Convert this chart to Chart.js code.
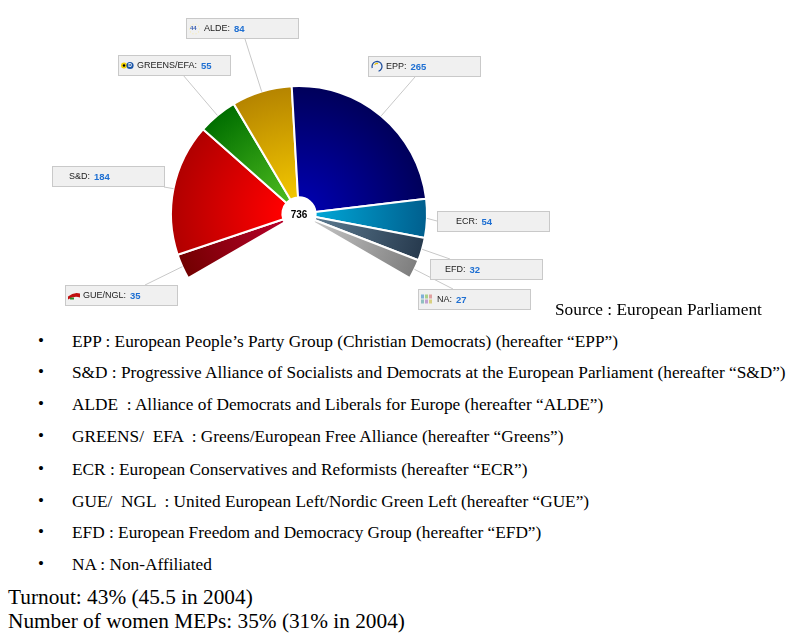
<!DOCTYPE html>
<html><head><meta charset="utf-8">
<script src="https://cdn.jsdelivr.net/npm/chart.js@4.4.1/dist/chart.umd.min.js"></script>
<style>
html,body{margin:0;padding:0;background:#fff;}
body{width:798px;height:638px;overflow:hidden;position:relative;font-family:"Liberation Serif","Times New Roman",serif;color:#000;}
#wrap{position:absolute;left:0;top:0;width:798px;height:320px;}
.t{position:absolute;white-space:pre;line-height:20px;font-size:17.3px;}
.b{position:absolute;line-height:20px;font-size:17px;}
.big{position:absolute;white-space:pre;line-height:24px;font-size:21.3px;}
</style></head><body>
<div id="wrap"><canvas id="c" width="798" height="320"></canvas></div>
<div id="notes"></div>
<script>
// ---- data ----
const groups = ['GUE/NGL', 'S&D', 'GREENS/EFA', 'ALDE', 'EPP', 'ECR', 'EFD', 'NA'];
const seats = [35, 184, 55, 84, 265, 54, 32, 27];
const innerColors = ['#b8002a', '#ff0000', '#4cba1e', '#f2c600', '#0000aa', '#00a6d6', '#5c7a90', '#c4c4c4'];
const outerColors = ['#720000', '#b00000', '#006e00', '#b58400', '#00005a', '#005f8e', '#273a4e', '#7e7e7e'];
const legendLines = [
  'EPP : European People\u2019s Party Group (Christian Democrats) (hereafter \u201cEPP\u201d)',
  'S&D : Progressive Alliance of Socialists and Democrats at the European Parliament (hereafter \u201cS&D\u201d)',
  'ALDE  : Alliance of Democrats and Liberals for Europe (hereafter \u201cALDE\u201d)',
  'GREENS/  EFA  : Greens/European Free Alliance (hereafter \u201cGreens\u201d)',
  'ECR : European Conservatives and Reformists (hereafter \u201cECR\u201d)',
  'GUE/  NGL  : United European Left/Nordic Green Left (hereafter \u201cGUE\u201d)',
  'EFD : European Freedom and Democracy Group (hereafter \u201cEFD\u201d)',
  'NA : Non-Affiliated'
];
const sourceText = 'Source : European Parliament';
const footLines = ['Turnout: 43% (45.5 in 2004)', 'Number of women MEPs: 35% (31% in 2004)'];

// ---- label box layout (annotation positions) ----
const boxLayout = [
  {x: 65, y: 285, tx: 18, ax: 145, ay: 285, icon: 'gue'},
  {x: 52, y: 166, tx: 17, ax: 164, ay: 187, icon: null},
  {x: 118, y: 55, tx: 19, ax: 183, ay: 75, icon: 'greens'},
  {x: 186, y: 18, tx: 18, ax: 245, ay: 39, icon: 'alde'},
  {x: 368, y: 56, tx: 18, ax: 415, ay: 77, icon: 'epp'},
  {x: 437, y: 211, tx: 19, ax: 437, ay: 221, icon: null},
  {x: 430, y: 259, tx: 15, ax: 450, ay: 259, icon: null},
  {x: 418, y: 289, tx: 19, ax: 453, ay: 289, icon: 'na'}
];
const BOX_W = 113, BOX_H = 21;

const total = seats.reduce((a, b) => a + b, 0);

// ---- HTML notes ----
const notes = document.getElementById('notes');
function addDiv(cls, text, left, top) {
  const d = document.createElement('div');
  d.className = cls; d.textContent = text;
  d.style.left = left + 'px'; d.style.top = top + 'px';
  notes.appendChild(d);
}
addDiv('t', sourceText, 555, 300);
const centers = [342, 373, 405, 437, 470, 502, 533, 565];
legendLines.forEach((s, i) => {
  addDiv('b', '\u2022', 38, centers[i] - 11);
  addDiv('t', s, 72, centers[i] - 10);
});
addDiv('big', footLines[0], 8, 585);
addDiv('big', footLines[1], 8, 609);

// ---- icons ----
function drawIcon(ctx, kind, x, y) {
  ctx.save();
  if (kind === 'alde') {
    ctx.fillStyle = '#f5e9a8';
    for (let k = 0; k < 10; k++) { const a = k / 10 * Math.PI * 2; ctx.fillRect(x + 5 + Math.cos(a) * 5, y + Math.sin(a) * 5, 1, 1); }
    ctx.fillStyle = '#3a5fb0'; ctx.font = 'bold 6px "Liberation Sans"'; ctx.textBaseline = 'middle'; ctx.fillText('44', x + 1, y);
  } else if (kind === 'greens') {
    ctx.fillStyle = '#f2d100'; ctx.beginPath(); ctx.arc(x + 3, y, 3, 0, Math.PI * 2); ctx.fill();
    ctx.fillStyle = '#000'; ctx.beginPath(); ctx.arc(x + 3, y, 1.2, 0, Math.PI * 2); ctx.fill();
    ctx.fillStyle = '#1b56a8'; ctx.beginPath(); ctx.arc(x + 9, y, 3.6, 0, Math.PI * 2); ctx.fill();
    ctx.fillStyle = '#fff'; ctx.font = 'bold 5px "Liberation Sans"'; ctx.textBaseline = 'middle'; ctx.fillText('D', x + 7.3, y + 0.3);
  } else if (kind === 'epp') {
    ctx.strokeStyle = '#1f4f9e'; ctx.lineWidth = 1.3; ctx.beginPath(); ctx.arc(x + 6, y, 5, Math.PI * 0.9, Math.PI * 2.4); ctx.stroke();
    ctx.strokeStyle = '#e8c000'; ctx.beginPath(); ctx.arc(x + 6, y, 3, Math.PI * 1.2, Math.PI * 1.6); ctx.stroke();
  } else if (kind === 'gue') {
    ctx.fillStyle = '#c01010'; ctx.beginPath(); ctx.moveTo(x, y + 1); ctx.quadraticCurveTo(x + 6, y - 4, x + 12, y - 2); ctx.lineTo(x + 12, y + 2); ctx.quadraticCurveTo(x + 6, y, x, y + 4); ctx.fill();
    ctx.fillStyle = '#2a8a2a'; ctx.fillRect(x + 2, y + 2, 4, 2);
  } else if (kind === 'na') {
    const cs = ['#7fb0d8', '#a8d08c', '#e0a0a0', '#90c0c0', '#c0a0d0', '#d8d080'];
    cs.forEach((c, k) => { ctx.fillStyle = c; ctx.fillRect(x + (k % 3) * 4, y - 5 + Math.floor(k / 3) * 5, 3, 4); });
  }
  ctx.restore();
}

// ---- plugins ----
const gradientPlugin = {
  id: 'gradients',
  beforeDatasetsDraw(chart) {
    const ctx = chart.ctx;
    chart.getDatasetMeta(0).data.forEach((arc, i) => {
      const p = arc.getProps(['x', 'y', 'innerRadius', 'outerRadius'], true);
      const g = ctx.createRadialGradient(p.x, p.y, p.innerRadius, p.x, p.y, p.outerRadius);
      g.addColorStop(0, innerColors[i]);
      g.addColorStop(1, outerColors[i]);
      arc.options = Object.assign({}, arc.options, {backgroundColor: g});
    });
  }
};

const labelPlugin = {
  id: 'boxLabels',
  afterDatasetsDraw(chart) {
    const ctx = chart.ctx;
    const meta = chart.getDatasetMeta(0);
    ctx.save();
    meta.data.forEach((arc, i) => {
      const p = arc.getProps(['x', 'y', 'startAngle', 'endAngle', 'outerRadius'], true);
      const mid = (p.startAngle + p.endAngle) / 2;
      const px = p.x + Math.cos(mid) * p.outerRadius;
      const py = p.y + Math.sin(mid) * p.outerRadius;
      const L = boxLayout[i];
      ctx.strokeStyle = '#c8c8c8'; ctx.lineWidth = 1;
      ctx.beginPath(); ctx.moveTo(px, py); ctx.lineTo(L.ax, L.ay); ctx.stroke();
    });
    meta.data.forEach((arc, i) => {
      const L = boxLayout[i];
      ctx.fillStyle = '#f0f0f0';
      ctx.fillRect(L.x, L.y, BOX_W, BOX_H);
      ctx.strokeStyle = '#c9c9c9'; ctx.lineWidth = 1;
      ctx.strokeRect(L.x + 0.5, L.y + 0.5, BOX_W - 1, BOX_H - 1);
      if (L.icon) drawIcon(ctx, L.icon, L.x + 3, L.y + BOX_H / 2);
      ctx.textBaseline = 'middle';
      ctx.font = '9px "Liberation Sans", Arial, sans-serif';
      ctx.fillStyle = '#222';
      const lbl = groups[i] + ':';
      ctx.fillText(lbl, L.x + L.tx, L.y + BOX_H / 2 + 0.5);
      const w = ctx.measureText(lbl).width + 4;
      ctx.font = 'bold 9.5px "Liberation Sans", Arial, sans-serif';
      ctx.fillStyle = '#1e6fd2';
      ctx.fillText(String(seats[i]), L.x + L.tx + w, L.y + BOX_H / 2 + 0.5);
    });
    const a0 = meta.data[0];
    ctx.font = 'bold 10px "Liberation Sans", Arial, sans-serif';
    ctx.fillStyle = '#000'; ctx.textAlign = 'center'; ctx.textBaseline = 'middle';
    ctx.fillText(String(total), a0.x, a0.y + 1);
    ctx.restore();
  }
};

new Chart(document.getElementById('c'), {
  type: 'doughnut',
  data: {
    labels: groups,
    datasets: [{
      data: seats,
      backgroundColor: outerColors,
      borderColor: '#ffffff',
      borderWidth: 2,
      hoverOffset: 0
    }]
  },
  options: {
    responsive: false,
    animation: false,
    rotation: -120,
    circumference: 240,
    radius: 128,
    cutout: '13%',
    layout: {padding: {left: 0, right: 200, top: 44, bottom: 0}},
    plugins: {legend: {display: false}, tooltip: {enabled: false}}
  },
  plugins: [gradientPlugin, labelPlugin]
});
</script>
</body></html>
